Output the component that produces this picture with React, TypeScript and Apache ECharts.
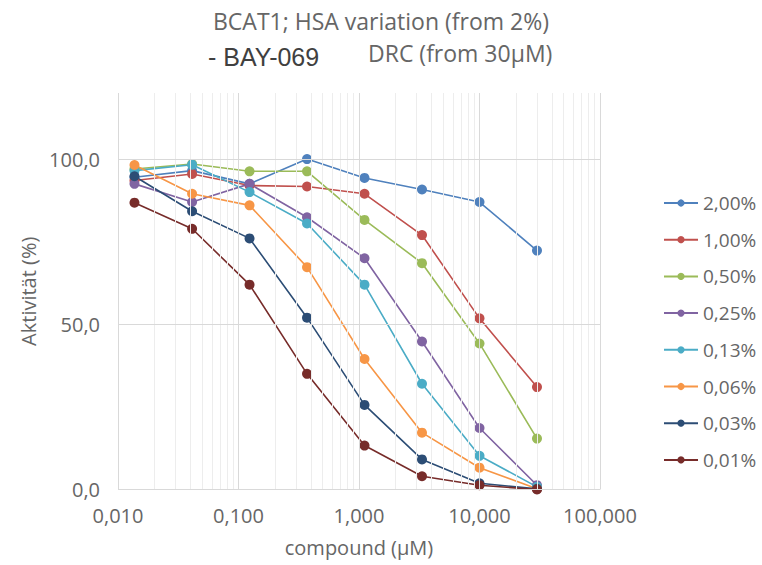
import React, { useEffect, useRef } from "react";
import * as echarts from "echarts";

// ---- data ----
const X_VALUES = [0.0137, 0.0412, 0.1235, 0.3704, 1.111, 3.333, 10, 30];
const SERIES_NAMES = ["2,00%", "1,00%", "0,50%", "0,25%", "0,13%", "0,06%", "0,03%", "0,01%"];
const S_200 = [94.5, 96.5, 92.5, 100, 94.3, 90.8, 87, 72.3];
const S_100 = [93.5, 95.5, 92, 91.7, 89.5, 77, 51.8, 31];
const S_050 = [97, 98.5, 96.3, 96.3, 81.6, 68.5, 44.2, 15.4];
const S_025 = [92.5, 87, 92.5, 82.4, 70, 44.8, 18.6, 1.3];
const S_013 = [96.5, 98.3, 90, 80.5, 62, 32, 10.2, 0.8];
const S_006 = [98.2, 89.5, 86, 67.3, 39.5, 17.2, 6.6, 0.2];
const S_003 = [94.8, 84.2, 76, 52, 25.6, 9.1, 1.9, 0.2];
const S_001 = [86.8, 78.9, 62, 35, 13.3, 4, 1.3, 0];
const SERIES_VALUES = [S_200, S_100, S_050, S_025, S_013, S_006, S_003, S_001];
const Y_TICKS = [0, 50, 100];
const X_DECADES = [0.01, 0.1, 1, 10, 100];
const MINOR_MULTIPLIERS = [2, 3, 4, 5, 6, 7, 8, 9];

const COLORS = ["#4F81BD", "#C0504D", "#9BBB59", "#8064A2", "#4BACC6", "#F79646", "#2C4D75", "#772C2A"];
const FONT = "'Open Sans', 'Noto Sans', sans-serif";
const TEXT_GRAY = "#666666";

export default function App() {
  const ref = useRef<HTMLDivElement>(null);
  useEffect(() => {
    document.body.style.margin = "0";
    if (!ref.current) return;
    const chart = echarts.init(ref.current, undefined, { renderer: "svg" });

    const minorValues: number[] = [];
    X_DECADES.slice(0, -1).forEach((d) => MINOR_MULTIPLIERS.forEach((m) => minorValues.push(d * m)));

    const lineSeries = SERIES_NAMES.map((name, i) => ({
      name,
      type: "line",
      z: 3,
      data: X_VALUES.map((x, j) => [x, SERIES_VALUES[i][j]]),
      symbol: "circle",
      symbolSize: 10,
      itemStyle: { color: COLORS[i] },
      lineStyle: { color: COLORS[i], width: 1.6 },
    }));

    const gridSeries = [
      {
        name: "__minor",
        type: "line",
        z: 0,
        data: [],
        silent: true,
        markLine: {
          silent: true,
          symbol: ["none", "none"],
          label: { show: false },
          lineStyle: { color: "#EDEDED", width: 1, type: "solid" },
          data: minorValues.map((v) => ({ xAxis: v })),
        },
      },
      {
        name: "__major",
        type: "line",
        z: 1,
        data: [],
        silent: true,
        markLine: {
          silent: true,
          symbol: ["none", "none"],
          label: { show: false },
          lineStyle: { color: "#D9D9D9", width: 1, type: "solid" },
          data: [
            ...X_DECADES.map((v) => ({ xAxis: v })),
            ...Y_TICKS.map((v) => ({ yAxis: v })),
          ],
        },
      },
    ];

    chart.setOption({
      animation: false,
      backgroundColor: "#ffffff",
      title: [
        {
          text: "BCAT1; HSA variation (from 2%)",
          left: "center",
          top: 7,
          padding: 0,
          textStyle: { fontFamily: FONT, fontSize: 23, fontWeight: "normal", color: TEXT_GRAY, lineHeight: 28 },
        },
        {
          text: "- BAY-069",
          left: 208,
          top: 42,
          padding: 0,
          textStyle: { fontFamily: "'Liberation Sans', Arial, sans-serif", fontSize: 25, fontWeight: "normal", color: "#404040", lineHeight: 30 },
        },
        {
          text: "DRC (from 30µM)",
          left: 368,
          top: 39,
          padding: 0,
          textStyle: { fontFamily: FONT, fontSize: 23, fontWeight: "normal", color: TEXT_GRAY, lineHeight: 28 },
        },
      ],
      grid: { left: 118, right: 162, top: 93, bottom: 75.5, containLabel: false },
      legend: {
        orient: "vertical",
        left: 658,
        top: 188,
        itemWidth: 34,
        itemHeight: 9,
        itemGap: 16.7,
        data: SERIES_NAMES,
        textStyle: { fontFamily: FONT, fontSize: 19, color: TEXT_GRAY, lineHeight: 20 },
      },
      xAxis: {
        type: "log",
        logBase: 10,
        min: 0.01,
        max: 100,
        name: "compound (µM)",
        nameLocation: "middle",
        nameGap: 48,
        nameTextStyle: { fontFamily: FONT, fontSize: 20, color: TEXT_GRAY },
        axisLine: { show: false },
        axisTick: { show: false },
        splitLine: { show: false },
        minorSplitLine: { show: false },
        axisLabel: {
          margin: 16,
          fontFamily: FONT,
          fontSize: 20,
          color: TEXT_GRAY,
          formatter: (v: number) => v.toFixed(3).replace(".", ","),
        },
      },
      yAxis: {
        type: "value",
        min: 0,
        max: 120,
        interval: 50,
        name: "Aktivität (%)",
        nameLocation: "middle",
        nameGap: 75,
        nameRotate: 90,
        nameTextStyle: { fontFamily: FONT, fontSize: 20, color: TEXT_GRAY },
        axisLine: { show: false },
        axisTick: { show: false },
        splitLine: { show: false },
        axisLabel: {
          margin: 18,
          fontFamily: FONT,
          fontSize: 20,
          color: TEXT_GRAY,
          showMaxLabel: false,
          formatter: (v: number) => (v > 100 ? "" : v.toFixed(1).replace(".", ",")),
        },
      },
      series: [...gridSeries, ...lineSeries],
    });
    return () => chart.dispose();
  }, []);
  return <div ref={ref} style={{ width: 762, height: 565 }} />;
}
